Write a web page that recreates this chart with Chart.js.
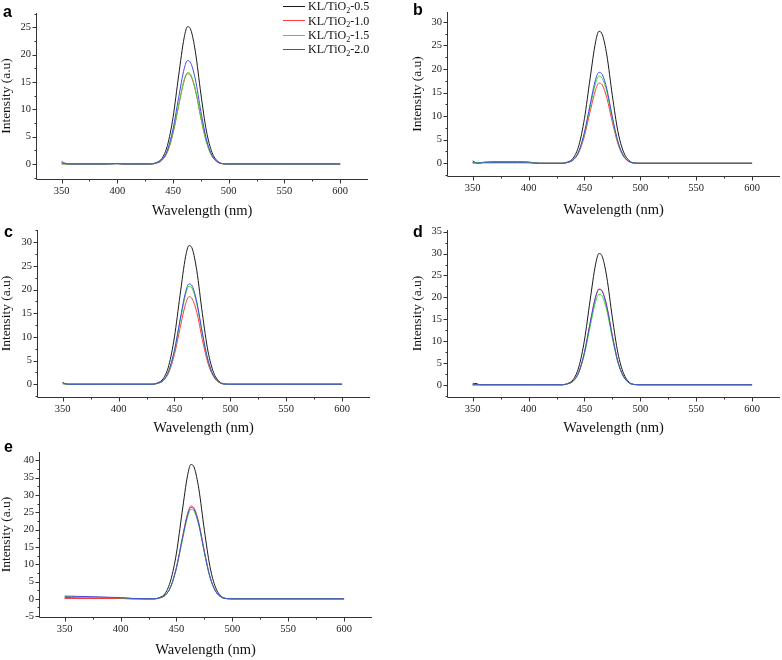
<!DOCTYPE html>
<html>
<head>
<meta charset="utf-8">
<script src="https://cdn.jsdelivr.net/npm/chart.js@4.4.1/dist/chart.umd.min.js"></script>
<style>
  body { margin: 0; background: #fff; }
  #wrap { position: relative; width: 782px; height: 660px; overflow: hidden; }
  #wrap canvas { position: absolute; }
</style>
</head>
<body>
<div id="wrap">
  <canvas id="pa"></canvas>
  <canvas id="pb"></canvas>
  <canvas id="pc"></canvas>
  <canvas id="pd"></canvas>
  <canvas id="pe"></canvas>
</div>
<script>
// wavelengths (nm), shared by every curve
const wavelengths = [350, 353, 356, 360, 370, 380, 390, 400, 405, 410, 420, 430, 435, 440, 445, 450, 455, 460, 463, 466, 470, 475, 480, 485, 490, 495, 500, 550, 600];

const seriesLabels = ['KL/TiO₂-0.5', 'KL/TiO₂-1.0', 'KL/TiO₂-1.5', 'KL/TiO₂-2.0'];
const seriesColors = ['#1a1a1a', '#ff3b3b', '#2fe02f', '#4646e6'];

// panel a
const aBlack = [0.2, 0.05, 0, 0, 0, 0, 0, 0.1, 0, 0, 0, 0, 0.25, 1.0, 3.4, 8.5, 16.1, 23.1, 25.1, 24.5, 20.6, 12.8, 6.0, 2.1, 0.5, 0.05, 0, 0, 0];
const aRed   = [0, 0, 0, 0, 0, 0, 0, 0.05, 0, 0, 0, 0, 0.15, 0.66, 2.2, 5.6, 10.6, 15.2, 16.5, 16.1, 13.5, 8.4, 4.0, 1.4, 0.33, 0.03, 0, 0, 0];
const aGreen = [0, 0, 0, 0, 0, 0, 0, 0.05, 0, 0, 0, 0, 0.17, 0.67, 2.25, 5.7, 10.7, 15.4, 16.7, 16.3, 13.7, 8.5, 4.0, 1.4, 0.33, 0.03, 0, 0, 0];
const aBlue  = [0.45, 0.15, 0, 0, 0, 0, 0, 0.05, 0, 0, 0, 0, 0.19, 0.76, 2.55, 6.4, 12.1, 17.4, 18.9, 18.4, 15.5, 9.6, 4.5, 1.6, 0.38, 0.04, 0, 0, 0];

// panel b
const bBlack = [0.5, 0.1, 0.05, 0.2, 0.3, 0.3, 0.3, 0.25, 0.1, 0, 0, 0, 0.28, 1.1, 3.8, 9.5, 17.9, 25.8, 28.0, 27.3, 23.0, 14.3, 6.7, 2.4, 0.56, 0.05, 0, 0, 0];
const bRed   = [0.1, 0.1, 0.1, 0.2, 0.2, 0.2, 0.2, 0.15, 0.05, 0, 0, 0, 0.17, 0.68, 2.3, 5.8, 10.9, 15.6, 17.0, 16.6, 13.9, 8.7, 4.1, 1.4, 0.34, 0.03, 0, 0, 0];
const bGreen = [0.2, 0.15, 0.15, 0.2, 0.2, 0.2, 0.2, 0.2, 0.1, 0, 0, 0, 0.19, 0.74, 2.5, 6.3, 11.8, 17.0, 18.5, 18.0, 15.2, 9.4, 4.4, 1.6, 0.37, 0.04, 0, 0, 0];
const bBlue  = [0.1, 0.05, 0.05, 0.1, 0.1, 0.1, 0.1, 0.1, 0.05, 0, 0, 0, 0.19, 0.77, 2.6, 6.6, 12.4, 17.8, 19.3, 18.8, 15.8, 9.8, 4.6, 1.6, 0.39, 0.04, 0, 0, 0];

// panel c
const cBlack = [0.35, 0.05, 0, 0, 0, 0, 0, 0, 0, 0, 0, 0, 0.29, 1.2, 4.0, 10.0, 18.8, 27.0, 29.3, 28.6, 24.0, 14.9, 7.0, 2.5, 0.59, 0.06, 0, 0, 0];
const cRed   = [0.1, 0, 0, 0, 0, 0, 0, 0, 0, 0, 0, 0, 0.19, 0.74, 2.5, 6.3, 11.8, 17.0, 18.5, 18.0, 15.2, 9.4, 4.4, 1.6, 0.37, 0.04, 0, 0, 0];
const cGreen = [0.2, 0, 0, 0, 0, 0, 0, 0, 0, 0, 0, 0, 0.21, 0.83, 2.8, 7.0, 13.2, 19.0, 20.7, 20.2, 17.0, 10.6, 5.0, 1.8, 0.41, 0.04, 0, 0, 0];
const cBlue  = [0.3, 0.05, 0, 0, 0, 0, 0, 0, 0, 0, 0, 0, 0.21, 0.85, 2.9, 7.2, 13.6, 19.5, 21.2, 20.7, 17.4, 10.8, 5.1, 1.8, 0.42, 0.04, 0, 0, 0];

// panel d
const dBlack = [0.2, 0.3, 0, 0, 0, 0, 0, 0, 0, 0, 0, 0, 0.3, 1.2, 4.1, 10.2, 19.2, 27.6, 30.0, 29.3, 24.6, 15.3, 7.2, 2.6, 0.6, 0.06, 0, 0, 0];
const dRed   = [0, 0, 0, 0, 0, 0, 0, 0, 0, 0, 0, 0, 0.22, 0.88, 3.0, 7.4, 14.0, 20.1, 21.9, 21.4, 18.0, 11.2, 5.3, 1.9, 0.44, 0.04, 0, 0, 0];
const dGreen = [0, 0, 0, 0, 0, 0, 0, 0, 0, 0, 0, 0, 0.21, 0.83, 2.8, 7.0, 13.2, 19.0, 20.7, 20.2, 17.0, 10.6, 5.0, 1.8, 0.41, 0.04, 0, 0, 0];
const dBlue  = [0, 0, 0, 0, 0, 0, 0, 0, 0, 0, 0, 0, 0.22, 0.87, 2.9, 7.4, 14.0, 20.1, 21.8, 21.3, 17.9, 11.1, 5.2, 1.9, 0.44, 0.04, 0, 0, 0];

// panel e
const eBlack = [0.3, 0.3, 0.3, 0.25, 0.2, 0.2, 0.15, 0.1, 0.05, 0, 0, 0, 0.39, 1.6, 5.5, 13.2, 24.8, 35.7, 38.8, 37.8, 31.8, 19.8, 9.3, 3.3, 0.78, 0.08, 0, 0, 0];
const eRed   = [0.1, 0.1, 0.1, 0.1, 0.1, 0.1, 0.1, 0.1, 0.1, 0.05, 0, 0, 0.27, 1.07, 3.6, 9.1, 17.2, 24.7, 26.8, 26.1, 22.0, 13.7, 6.4, 2.3, 0.54, 0.05, 0, 0, 0];
const eGreen = [0.6, 0.6, 0.58, 0.55, 0.5, 0.45, 0.38, 0.3, 0.22, 0.1, 0, 0, 0.26, 1.03, 3.5, 8.8, 16.5, 23.7, 25.8, 25.2, 21.2, 13.2, 6.2, 2.2, 0.52, 0.05, 0, 0, 0];
const eBlue  = [0.8, 0.78, 0.76, 0.72, 0.65, 0.55, 0.45, 0.35, 0.25, 0.15, 0.02, 0, 0.26, 1.06, 3.6, 9.0, 16.9, 24.3, 26.4, 25.7, 21.6, 13.5, 6.3, 2.2, 0.53, 0.05, 0, 0, 0];

// tick labels
const xTicks = [350, 400, 450, 500, 550, 600];
const yTicksA = [0, 5, 10, 15, 20, 25];
const yTicksB = [0, 5, 10, 15, 20, 25, 30];
const yTicksD = [0, 5, 10, 15, 20, 25, 30, 35];
const yTicksE = [-5, 0, 5, 10, 15, 20, 25, 30, 35, 40];

const serif = '"Liberation Serif", "Times New Roman", serif';

// axis lines with outward major/minor ticks, plus the panel letter
const framePlugin = {
  id: 'frame',
  afterDraw(chart, args, opts) {
    const { ctx, chartArea: a, scales: { x, y } } = chart;
    const L = Math.round(a.left) + 0.5, B = Math.round(a.bottom) + 0.5;
    ctx.save();
    ctx.strokeStyle = '#333';
    ctx.lineWidth = 1;
    ctx.beginPath();
    ctx.moveTo(L, Math.round(a.top));
    ctx.lineTo(L, B);
    ctx.lineTo(Math.round(a.right), B);
    const tickSet = (scale, horiz) => {
      const vals = scale.ticks.map(t => t.value);
      const step = vals[1] - vals[0];
      const marks = vals.map(v => [v, 4]);
      for (let v = vals[0] - step / 2; v < scale.max; v += step) {
        if (v > scale.min) marks.push([v, 2]);
      }
      marks.forEach(([v, len]) => {
        const p = Math.round(scale.getPixelForValue(v)) + 0.5;
        if (horiz) { ctx.moveTo(p, B); ctx.lineTo(p, B + len); }
        else { ctx.moveTo(L, p); ctx.lineTo(L - len, p); }
      });
    };
    tickSet(x, true);
    tickSet(y, false);
    ctx.stroke();
    ctx.fillStyle = '#000';
    ctx.font = 'bold 16px "Liberation Sans", Arial, sans-serif';
    ctx.textBaseline = 'alphabetic';
    ctx.fillText(opts.tag, opts.tagX, opts.tagY);
    ctx.restore();
  }
};

// series key drawn at the top right of panel a, with a real subscript
const keyPlugin = {
  id: 'seriesKey',
  afterDraw(chart, args, opts) {
    if (!opts.show) return;
    const { ctx } = chart;
    ctx.save();
    chart.data.datasets.forEach((ds, i) => {
      const yy = opts.y + i * opts.gap;
      ctx.strokeStyle = ds.borderColor;
      ctx.lineWidth = 1;
      ctx.beginPath();
      ctx.moveTo(opts.x, Math.round(yy) + 0.5);
      ctx.lineTo(opts.x + 22, Math.round(yy) + 0.5);
      ctx.stroke();
      const [head, tail] = ds.label.split('₂');
      ctx.fillStyle = '#111';
      ctx.textBaseline = 'middle';
      let tx = opts.x + 25;
      ctx.font = '12px ' + serif;
      ctx.fillText(head, tx, yy + 1);
      tx += ctx.measureText(head).width;
      ctx.font = '8px ' + serif;
      ctx.fillText('2', tx, yy + 5);
      tx += ctx.measureText('2').width;
      ctx.font = '12px ' + serif;
      ctx.fillText(tail, tx, yy + 1);
    });
    ctx.restore();
  }
};

function makePanel(id, series, yTicks, g) {
  const cv = document.getElementById(id);
  cv.width = g.cw; cv.height = g.ch;
  cv.style.left = g.cx + 'px'; cv.style.top = g.cy + 'px';
  const padL = g.ytx - g.cx - 7;
  const yw = g.L - g.cx - padL;
  const xh = g.xty + 7 - g.B;
  new Chart(cv, {
    type: 'line',
    data: {
      datasets: series.map((s, i) => ({
        label: seriesLabels[i],
        data: wavelengths.map((w, k) => ({ x: w, y: s[k] })),
        borderColor: seriesColors[i],
        borderWidth: 1,
        pointRadius: 0,
        fill: false,
        cubicInterpolationMode: 'monotone',
        order: 3 - i
      }))
    },
    options: {
      responsive: false,
      animation: false,
      events: [],
      layout: { padding: { left: padL, top: g.T - g.cy, right: g.cx + g.cw - g.R, bottom: g.cy + g.ch - g.xty - 7 } },
      plugins: {
        legend: { display: false },
        tooltip: { enabled: false },
        frame: { tag: g.tag, tagX: g.tagX - g.cx, tagY: g.tagY - g.cy },
        seriesKey: { show: !!g.key, x: 283 - g.cx, y: 6 - g.cy, gap: 14.4 }
      },
      scales: {
        x: {
          type: 'linear',
          min: 327, max: 625,
          afterBuildTicks: s => { s.ticks = xTicks.map(v => ({ value: v })); },
          afterFit: s => { s.height = xh; },
          grid: { display: false, drawTicks: false },
          border: { display: false },
          ticks: { color: '#222', font: { family: serif, size: 10.5 }, padding: 6, maxRotation: 0 },
          title: { display: true, text: 'Wavelength (nm)', color: '#111', padding: 0, font: { family: serif, size: 14.5, lineHeight: 1 } }
        },
        y: {
          min: g.ymin, max: g.ymax,
          afterBuildTicks: s => { s.ticks = yTicks.map(v => ({ value: v })); },
          afterFit: s => { s.width = yw; },
          grid: { display: false, drawTicks: false },
          border: { display: false },
          ticks: { color: '#222', font: { family: serif, size: 10.5 }, padding: 5 },
          title: { display: true, text: 'Intensity (a.u)', color: '#111', padding: 0, font: { family: serif, size: 13.5, lineHeight: 1 } }
        }
      }
    },
    plugins: [framePlugin, keyPlugin]
  });
}

window.addEventListener('load', () => {
  makePanel('pa', [aBlack, aRed, aGreen, aBlue], yTicksA,
    { cx: 0, cy: 0, cw: 390, ch: 225, L: 36, T: 13, R: 368, B: 179, ytx: 7, xty: 211, ymin: -2.75, ymax: 27.6, tag: 'a', tagX: 3, tagY: 17, key: true });
  makePanel('pb', [bBlack, bRed, bGreen, bBlue], yTicksB,
    { cx: 390, cy: 0, cw: 392, ch: 225, L: 447, T: 12, R: 780, B: 176, ytx: 418, xty: 210, ymin: -2.7, ymax: 32.1, tag: 'b', tagX: 413, tagY: 15 });
  makePanel('pc', [cBlack, cRed, cGreen, cBlue], yTicksB,
    { cx: 0, cy: 215, cw: 390, ch: 225, L: 37, T: 230, R: 370, B: 397, ytx: 7, xty: 428, ymin: -2.7, ymax: 32.6, tag: 'c', tagX: 4, tagY: 237 });
  makePanel('pd', [dBlack, dRed, dGreen, dBlue], yTicksD,
    { cx: 390, cy: 215, cw: 392, ch: 225, L: 447, T: 230, R: 780, B: 397, ytx: 418, xty: 428, ymin: -2.8, ymax: 35.4, tag: 'd', tagX: 413, tagY: 237 });
  makePanel('pe', [eBlack, eRed, eGreen, eBlue], yTicksE,
    { cx: 0, cy: 435, cw: 390, ch: 225, L: 39, T: 452, R: 372, B: 617, ytx: 7, xty: 650, ymin: -5.25, ymax: 42.4, tag: 'e', tagX: 4, tagY: 452 });
});
</script>
</body>
</html>
